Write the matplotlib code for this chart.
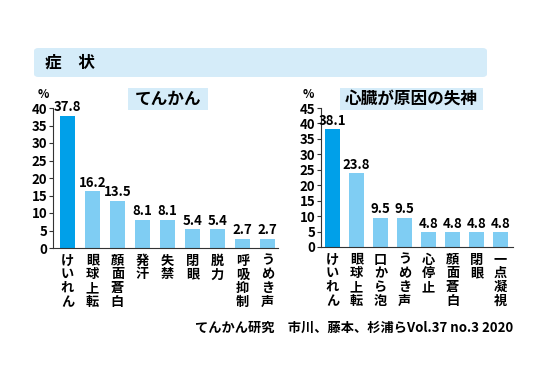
import matplotlib
matplotlib.use("Agg")
import matplotlib.pyplot as plt
from matplotlib.patches import FancyBboxPatch, Rectangle

plt.rcParams['font.family'] = ['Noto Sans CJK JP', 'DejaVu Sans']

# --- data ---
epi_labels = ["けいれん", "眼球上転", "顔面蒼白", "発汗", "失禁", "閉眼", "脱力", "呼吸抑制", "うめき声"]
epi_values = [37.8, 16.2, 13.5, 8.1, 8.1, 5.4, 5.4, 2.7, 2.7]

card_labels = ["けいれん", "眼球上転", "口から泡", "うめき声", "心停止", "顔面蒼白", "閉眼", "一点凝視"]
card_values = [38.1, 23.8, 9.5, 9.5, 4.8, 4.8, 4.8, 4.8]

epi_ticks = [0, 5, 10, 15, 20, 25, 30, 35, 40]
card_ticks = [0, 5, 10, 15, 20, 25, 30, 35, 40, 45]

DARK = "#00a0e9"
LIGHT = "#7fcdf3"
BOXBG = "#d5ecf9"

W, H = 550, 384
fig = plt.figure(figsize=(W / 100, H / 100), dpi=100)


def fx(px):
    return px / W


def fy(py):
    # py measured from the top of the picture
    return 1 - py / H


# header band
fig.patches.append(FancyBboxPatch((fx(34), fy(77)), fx(453), 29 / H,
                                  boxstyle="round,pad=0,rounding_size=0.008",
                                  transform=fig.transFigure, facecolor=BOXBG,
                                  edgecolor="none", zorder=0))
fig.text(fx(45), fy(63), "症　状", fontsize=12, fontweight="bold",
         ha="left", va="center")


def panel(left, right, zero_y, top_y, ymax, ticks, labels, values, title, title_box, pct_x):
    ax = fig.add_axes([fx(left), fy(zero_y), fx(right - left), (zero_y - top_y) / H])
    n = len(values)
    x = list(range(n))
    colors = [DARK] + [LIGHT] * (n - 1)
    bars = ax.bar(x, values, width=0.6, color=colors)
    ax.bar_label(bars, labels=[f"{v:.1f}" for v in values], padding=1,
                 fontsize=9.5, fontweight="bold")
    off = 0.58 if n == 9 else 0.48
    ax.set_xlim(-off, n - off)
    ax.set_ylim(0, ymax)
    ax.set_yticks(ticks)
    ax.set_yticklabels([str(t) for t in ticks], fontsize=9.5, fontweight="bold")
    ax.set_xticks([])
    ax.tick_params(axis="y", length=3, width=0.8, pad=1, color="#333333")
    for s in ["top", "right"]:
        ax.spines[s].set_visible(False)
    for s in ["left", "bottom"]:
        ax.spines[s].set_color("#333333")
        ax.spines[s].set_linewidth(0.8)
    ax.patch.set_alpha(0)
    # vertical category labels
    for i, lab in enumerate(labels):
        ax.annotate("\n".join(lab), xy=(i, 0), xycoords="data",
                    xytext=(0, -4), textcoords="offset points",
                    ha="center", va="top", fontsize=9.5, fontweight="bold",
                    linespacing=0.98, annotation_clip=False)
    # subtitle box
    bx0, bx1 = title_box
    fig.patches.append(Rectangle((fx(bx0), fy(110)), fx(bx1 - bx0), 22 / H,
                                 transform=fig.transFigure, facecolor=BOXBG,
                                 edgecolor="none", zorder=0))
    fig.text(fx((bx0 + bx1) / 2), fy(99), title, fontsize=12,
             fontweight="bold", ha="center", va="center")
    fig.text(fx(pct_x), fy(95), "%", fontsize=8.5, fontweight="bold",
             ha="center", va="center")
    return ax


panel(53, 278, 248, 108, 40, epi_ticks, epi_labels, epi_values,
      "てんかん", (128, 208), 43)
panel(321, 513, 247, 108, 45, card_ticks, card_labels, card_values,
      "心臓が原因の失神", (340, 483), 308)

fig.text(fx(513), fy(328), "てんかん研究　市川、藤本、杉浦らVol.37 no.3 2020",
         fontsize=9.5, fontweight="bold", ha="right", va="center")

fig.savefig("out.png", dpi=100)
